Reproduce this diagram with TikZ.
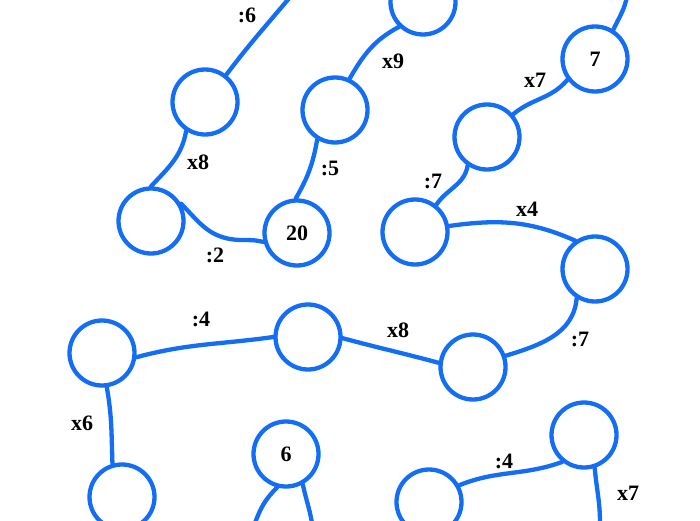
\documentclass[tikz,border=0pt]{standalone}
\usepackage{fontspec}
\setmainfont{Liberation Serif}
\definecolor{cblue}{RGB}{20,110,245}
\begin{document}
\begin{tikzpicture}[x=1pt,y=1pt,
  circ/.style={circle,draw=cblue,line width=4.3pt,minimum size=65pt,inner sep=0pt,
    font=\fontsize{22}{24}\selectfont\bfseries},
  edge/.style={draw=cblue,line width=4.3pt,line cap=round},
  lbl/.style={font=\fontsize{22}{24}\selectfont\bfseries,inner sep=0pt}]
\useasboundingbox (0,0) rectangle (700,520);
% nodes
\node[circ] (A) at (205,418) {};
\node[circ] (B) at (151,299) {};
\node[circ] (C) at (297,287) {20};
\node[circ] (D) at (335,410) {};
\node[circ] (E) at (423,518) {};
\node[circ] (F) at (595,461) {7};
\node[circ] (G) at (487,383) {};
\node[circ] (H) at (415,288) {};
\node[circ] (I) at (595,251) {};
\node[circ] (J) at (102,167) {};
\node[circ] (K) at (308,183) {};
\node[circ] (L) at (473,153) {};
\node[circ] (M) at (584,85) {};
\node[circ] (N) at (429,18) {};
\node[circ] (O) at (122,23) {};
\node[circ] (P) at (286,66) {6};
% free ends
\coordinate (a6) at (291,524);
\coordinate (f7) at (627,524);
\coordinate (p1) at (255,-3);
\coordinate (p2) at (312,-3);
\coordinate (m1) at (600,-3);
\coordinate (bc) at (230,281);
% connectors
\draw[edge] (A.52) to[out=53,in=-130] (a6);
\draw[edge] (A.-123) to[out=-100,in=47] (B.90);
\draw[edge] (B.30) to[out=-45,in=170] (bc) to[out=-10,in=165] (C.195);
\draw[edge] (C.92) to[out=60,in=-100] (D.239);
\draw[edge] (D.65) to[out=60,in=208] (E.226);
\draw[edge] (F.58) to[out=65,in=-100] (f7);
\draw[edge] (F.217) to[out=-130,in=40] (G.41);
\draw[edge] (G.236) to[out=-100,in=56] (H.52);
\draw[edge] (H.10) to[out=8,in=156] (I.125);
\draw[edge] (I.238) to[out=-95,in=17] (L.19);
\draw[edge] (K.-2) to[out=-15,in=165] (L.173);
\draw[edge] (J.-7) to[out=15,in=188] (K.180);
\draw[edge] (J.-82) to[out=-80,in=92] (O.106);
\draw[edge] (P.-105) to[out=-135,in=70] (p1);
\draw[edge] (P.-61) to[out=-78,in=100] (p2);
\draw[edge] (N.29) to[out=22,in=200] (M.231);
\draw[edge] (M.-72) to[out=-85,in=90] (m1);
% labels
\node[lbl] (l1) at (247,505) {:6};
\node[lbl] (l2) at (198,358) {x8};
\node[lbl] (l3) at (215,265) {:2};
\node[lbl] (l4) at (330,352) {:5};
\node[lbl] (l5) at (393,459) {x9};
\node[lbl] (l6) at (535,440) {x7};
\node[lbl] (l7) at (433,339) {:7};
\node[lbl] (l8) at (527,311) {x4};
\node[lbl] (l9) at (580,181) {:7};
\node[lbl] (l10) at (398,190) {x8};
\node[lbl] (l11) at (201,201) {:4};
\node[lbl] (l12) at (82,97) {x6};
\node[lbl] (l13) at (504,59) {:4};
\node[lbl] (l14) at (628,27) {x7};
\end{tikzpicture}
\end{document}
